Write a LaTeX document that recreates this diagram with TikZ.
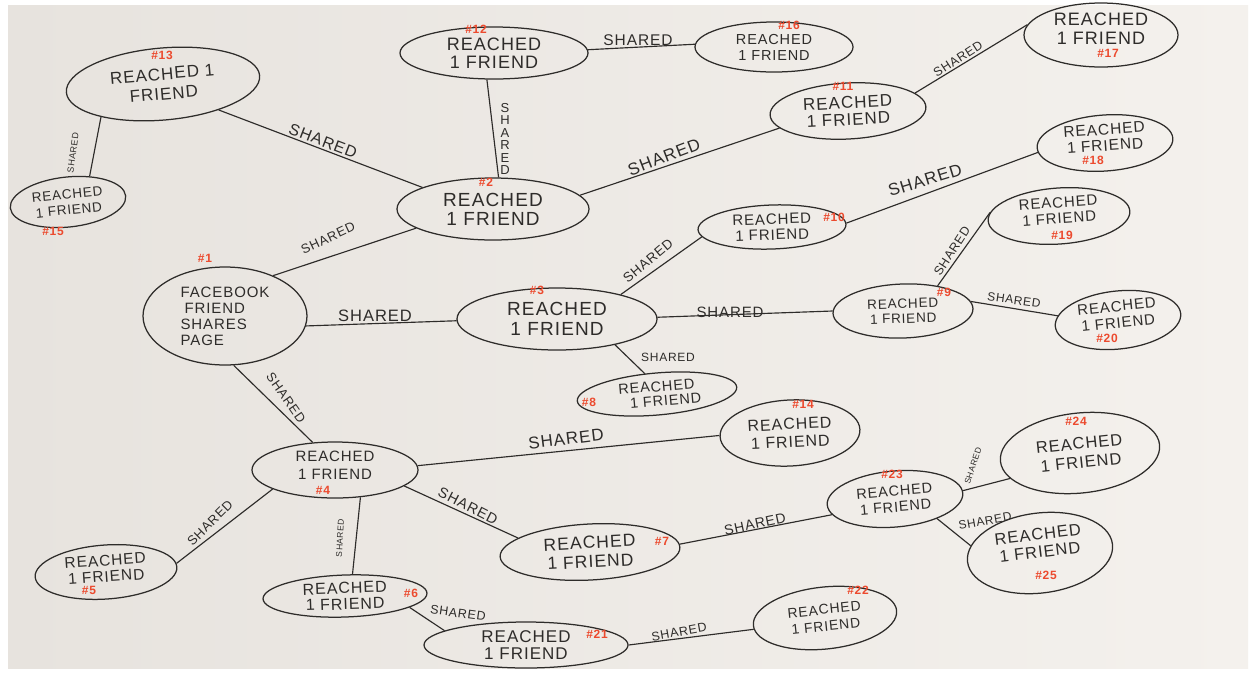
\documentclass[tikz,border=0pt]{standalone}
\usepackage{fontspec}
\setmainfont{Liberation Sans}[LetterSpace=6]
\usetikzlibrary{shapes.geometric}
\definecolor{paperL}{HTML}{E7E3DE}
\definecolor{paperR}{HTML}{F4F1ED}
\definecolor{ink}{HTML}{2E2C2A}
\definecolor{redink}{HTML}{EC4A2E}
\tikzset{
  bub/.style 2 args={ellipse, draw=ink, line width=1.25pt, inner sep=0pt, align=center,
    text=ink, minimum width=#1, minimum height=#2},
  fsl/.style 2 args={font=\fontsize{#1}{#2}\selectfont},
  lab/.style={font=\fontsize{#1}{#1}\selectfont, text=ink, inner sep=0pt},
  num/.style={font=\bfseries\fontsize{12}{12}\selectfont, text=redink, inner sep=0pt},
  link/.style={draw=ink, line width=1.15pt},
}
\begin{document}
\begin{tikzpicture}[x=1pt,y=-1pt]
\useasboundingbox (0,0) rectangle (1251,673);
\fill[white] (0,0) rectangle (1251,673);
\shade[left color=paperL, right color=paperR] (8,5) rectangle (1248,668);

% ---------- nodes ----------
\node[bub={194pt}{72pt}, fsl={17}{20}, rotate=5] (n13) at (163,84) {REACHED 1\\FRIEND};
\node[bub={116pt}{50pt}, fsl={13.5}{16}, rotate=6] (n15) at (68,202) {REACHED\\1 FRIEND};
\node[bub={188pt}{52pt}, fsl={18}{18}] (n12) at (494,53) {REACHED\\1 FRIEND};
\node[bub={158pt}{50pt}, fsl={14.5}{16}] (n16) at (774,47) {REACHED\\1 FRIEND};
\node[bub={156pt}{56pt}, fsl={17}{17}, rotate=3] (n11) at (848,111) {REACHED\\1 FRIEND};
\node[bub={154pt}{64pt}, fsl={18}{19}, text depth=12pt] (n17) at (1101,35) {REACHED\\1 FRIEND};
\node[bub={136pt}{56pt}, fsl={15.5}{16}, rotate=4, text depth=11pt] (n18) at (1105,143) {REACHED\\1 FRIEND};
\node[bub={192pt}{62pt}, fsl={19}{19}] (n2) at (493,209) {REACHED\\1 FRIEND};
\node[bub={148pt}{44pt}, fsl={15}{15.5}, rotate=2] (n10) at (772,227) {REACHED\\1 FRIEND};
\node[bub={142pt}{56pt}, fsl={15}{16}, rotate=4, text depth=11pt] (n19) at (1059,216) {REACHED\\1 FRIEND};
\node[bub={164pt}{98pt}, fsl={15}{16}, align=left] (n1) at (225,316) {FACEBOOK\\\hspace*{4pt}FRIEND\\SHARES\\PAGE};
\node[bub={200pt}{62pt}, fsl={19}{20}] (n3) at (557,319) {REACHED\\1 FRIEND};
\node[bub={140pt}{54pt}, fsl={13.5}{15}, rotate=2] (n9) at (903,311) {REACHED\\1 FRIEND};
\node[bub={126pt}{58pt}, fsl={15}{16.5}, rotate=6, text depth=11pt] (n20) at (1118,320) {REACHED\\1 FRIEND};
\node[bub={160pt}{42pt}, fsl={14.5}{15}, rotate=5] (n8) at (657,394) {REACHED\\\hspace*{16pt}1 FRIEND};
\node[bub={140pt}{66pt}, fsl={16}{18}, rotate=3] (n14) at (790,433) {REACHED\\1 FRIEND};
\node[bub={166pt}{56pt}, fsl={15}{18}, text depth=9pt] (n4) at (335,470) {REACHED\\1 FRIEND};
\node[bub={136pt}{56pt}, fsl={14.5}{16}, rotate=5] (n23) at (895,499) {REACHED\\1 FRIEND};
\node[bub={160pt}{80pt}, fsl={16.5}{19}, rotate=6] (n24) at (1080,453) {REACHED\\1 FRIEND};
\node[bub={180pt}{56pt}, fsl={17.5}{19}, rotate=3] (n7) at (590,552) {REACHED\\1 FRIEND};
\node[bub={146pt}{80pt}, fsl={16.5}{18}, rotate=7, text depth=20pt] (n25) at (1040,553) {REACHED\\1 FRIEND};
\node[bub={142pt}{54pt}, fsl={15.5}{16}, rotate=4, text depth=7pt] (n5) at (106,572) {REACHED\\1 FRIEND};
\node[bub={164pt}{42pt}, fsl={16}{16}, rotate=2] (n6) at (345,596) {REACHED\\1 FRIEND};
\node[bub={204pt}{46pt}, fsl={17}{17}] (n21) at (526,645) {REACHED\\1 FRIEND};
\node[bub={144pt}{62pt}, fsl={14}{17}, rotate=6] (n22) at (825,618) {REACHED\\1 FRIEND};

% ---------- red numbers ----------
\node[num] (r1)  at (205,258) {\#1};
\node[num] (r2)  at (486,182) {\#2};
\node[num] (r3)  at (537,290) {\#3};
\node[num] (r4)  at (323,490) {\#4};
\node[num] (r5)  at (89,590)  {\#5};
\node[num] (r6)  at (411,593) {\#6};
\node[num] (r7)  at (662,541) {\#7};
\node[num] (r8)  at (589,402) {\#8};
\node[num] (r9)  at (944,292) {\#9};
\node[num] (r10) at (834,217) {\#10};
\node[num] (r11) at (843,86)  {\#11};
\node[num] (r12) at (476,29)  {\#12};
\node[num] (r13) at (162,55)  {\#13};
\node[num] (r14) at (803,404) {\#14};
\node[num] (r15) at (53,231)  {\#15};
\node[num] (r16) at (789,25)  {\#16};
\node[num] (r17) at (1108,53) {\#17};
\node[num] (r18) at (1093,160) {\#18};
\node[num] (r19) at (1062,235) {\#19};
\node[num] (r20) at (1107,338) {\#20};
\node[num] (r21) at (597,634) {\#21};
\node[num] (r22) at (858,590) {\#22};
\node[num] (r23) at (892,474) {\#23};
\node[num] (r24) at (1076,421) {\#24};
\node[num] (r25) at (1046,575) {\#25};

% ---------- connectors ----------
\draw[link] (n13.203) -- (n15.44);
\draw[link] (n13.-30) -- (n2.163);
\draw[link] (n12.2) -- (n16.178);
\draw[link] (n12.-105) -- (n2.80);
\draw[link] (n2.9) -- (n11.191);
\draw[link] (n11.12) -- (n17.172);
\draw[link] (n1.40) -- (n2.194);
\draw[link] (n1.-7) -- (n3.181);
\draw[link] (n3.21) -- (n10.186);
\draw[link] (n10.1) -- (n18.184);
\draw[link] (n3.1) -- (n9.178);
\draw[link] (n9.34) -- (n19.173);
\draw[link] (n9.6) -- (n20.170);
\draw[link] (n3.-24) -- (n8.116);
\draw[link] (n1.-80) -- (n4.129);
\draw[link] (n4.3) -- (n14.179);
\draw[link] (n4.-13) -- (n7.166);
\draw[link] (n7.2) -- (n23.189);
\draw[link] (n23.2) -- (n24.194);
\draw[link] (n23.-30) -- (n25.167);
\draw[link] (n4.197) -- (n5.3);
\draw[link] (n4.-47) -- (n6.69);
\draw[link] (n6.-12) -- (n21.170);
\draw[link] (n21.0) -- (n22.183);

% ---------- connector labels ----------
\node[lab=9, rotate=82] (s1) at (73,153) {SHARED};
\node[lab=16, rotate=-21] (s2) at (323,141) {SHARED};
\node[lab=15.5] (s3) at (638,40) {SHARED};
\node[lab=13, align=center, font=\fontsize{13}{12.5}\selectfont] (s4) at (505,139) {S\\H\\A\\R\\E\\D};
\node[lab=17, rotate=21] (s5) at (664,157) {SHARED};
\node[lab=12.5, rotate=33] (s6) at (958,59) {SHARED};
\node[lab=13, rotate=25] (s7) at (328,238) {SHARED};
\node[lab=16.5] (s8) at (375,316) {SHARED};
\node[lab=13.5, rotate=40] (s9) at (648,261) {SHARED};
\node[lab=17, rotate=17] (s10) at (925,180) {SHARED};
\node[lab=15] (s11) at (730,312) {SHARED};
\node[lab=12.5, rotate=57] (s12) at (952,251) {SHARED};
\node[lab=12, rotate=-8] (s13) at (1014,300) {SHARED};
\node[lab=12] (s14) at (668,357) {SHARED};
\node[lab=13, rotate=-55] (s15) at (286,398) {SHARED};
\node[lab=17, rotate=7] (s16) at (566,439) {SHARED};
\node[lab=14.5, rotate=-27] (s17) at (468,506) {SHARED};
\node[lab=14, rotate=12] (s18) at (755,524) {SHARED};
\node[lab=8.5, rotate=72] (s19) at (973,466) {SHARED};
\node[lab=12, rotate=10] (s20) at (985,521) {SHARED};
\node[lab=13, rotate=45] (s21) at (210,523) {SHARED};
\node[lab=8.5, rotate=87] (s22) at (340,538) {SHARED};
\node[lab=12.5, rotate=-8] (s23) at (458,613) {SHARED};
\node[lab=12.5, rotate=10] (s24) at (679,632) {SHARED};
\end{tikzpicture}
\end{document}
